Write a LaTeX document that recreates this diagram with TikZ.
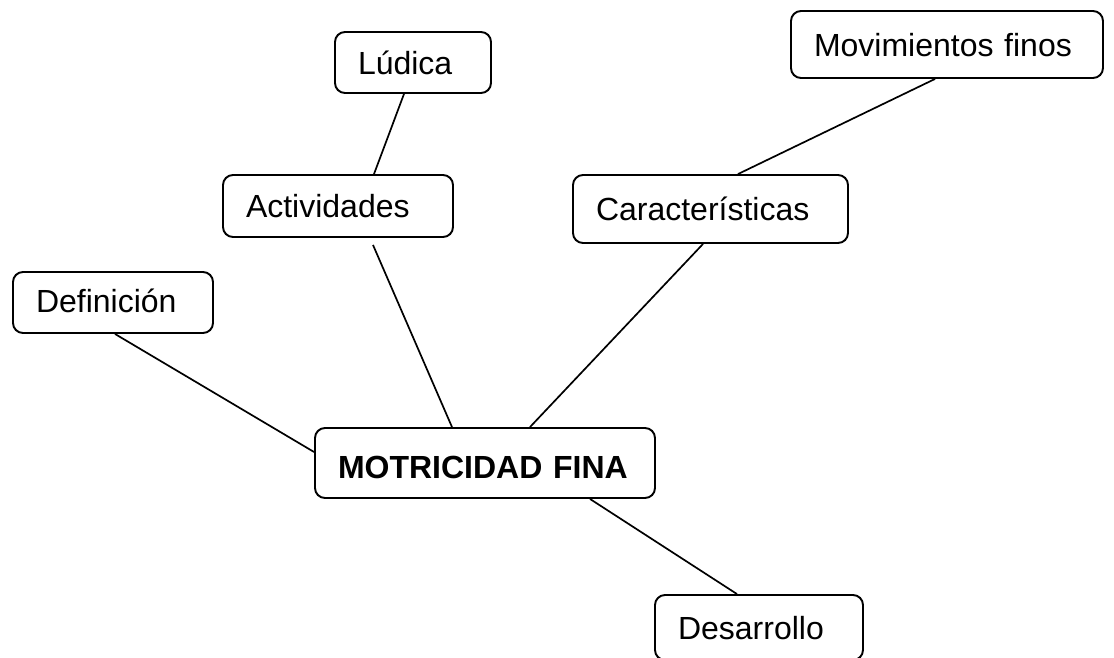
\documentclass[tikz,border=0pt]{standalone}
\usepackage{fontspec}
\setmainfont{Liberation Sans}
\begin{document}
\begin{tikzpicture}[x=1pt,y=-1pt,
  box/.style={draw, line width=1.9pt, rounded corners=10pt, inner xsep=23pt, inner ysep=0pt,
    align=left, font=\fontsize{32}{36}\selectfont, text height=23pt, text depth=0pt},
  link/.style={line width=1.7pt}]
\useasboundingbox (0,0) rectangle (1114,657);
\node[box, text width=110pt, minimum height=61pt] (lud) at (413,62.5) {Lúdica};
\node[box, text width=266pt, minimum height=67pt] (mov) at (947,44.5) {Movimientos finos};
\node[box, text width=184pt, minimum height=62pt] (act) at (338,206) {Actividades};
\node[box, text width=229pt, minimum height=68pt] (car) at (710.5,209) {Características};
\node[box, text width=154pt, minimum height=61pt, text height=20pt] (def) at (113,302.5) {Definición};
\node[box, text width=294pt, minimum height=70pt, text height=31pt, font=\fontsize{32}{36}\selectfont\bfseries] (mf) at (485,463) {MOTRICIDAD FINA};
\node[box, text width=162pt, minimum height=65pt] (des) at (759,627.5) {Desarrollo};
\draw[link] ([xshift=-9pt]lud.south) -- ([xshift=36pt]act.north);
\draw[link] ([xshift=-12pt]mov.south) -- ([xshift=27.5pt]car.north);
\draw[link] ([xshift=35pt,yshift=-7pt]act.south) -- ([xshift=-33pt]mf.north);
\draw[link] ([xshift=-7.5pt]car.south) -- ([xshift=45pt]mf.north);
\draw[link] ([xshift=2pt]def.south) -- ([yshift=11pt]mf.west);
\draw[link] ([xshift=105pt]mf.south) -- ([xshift=-22pt]des.north);
\end{tikzpicture}
\end{document}
